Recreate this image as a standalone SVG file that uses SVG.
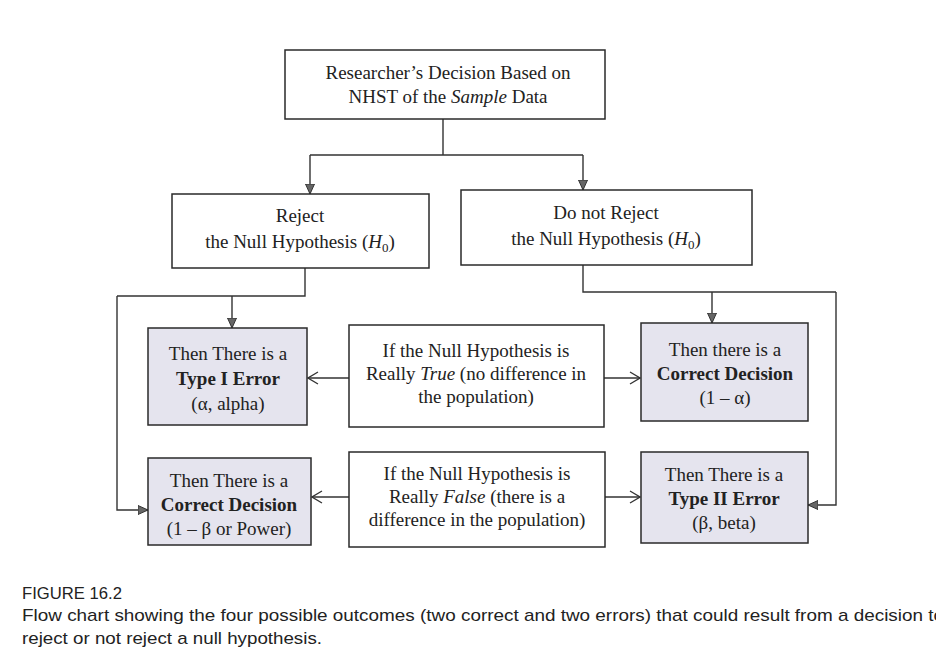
<svg xmlns="http://www.w3.org/2000/svg" width="936" height="665" viewBox="0 0 936 665">
<defs>
<marker id="tri" viewBox="0 0 10 10" refX="10" refY="5" markerWidth="10" markerHeight="10" markerUnits="userSpaceOnUse" orient="auto">
<path d="M0,0.5 L10,5 L0,9.5 Z" fill="#666" stroke="#333" stroke-width="1"/>
</marker>
<marker id="chev" viewBox="0 0 12 14" refX="11" refY="7" markerWidth="12" markerHeight="14" markerUnits="userSpaceOnUse" orient="auto">
<path d="M1,1 L11,7 L1,13" fill="none" stroke="#333" stroke-width="1.3"/>
</marker>
</defs>
<style>
.box{fill:#fff;stroke:#2a2a2a;stroke-width:1.5}
.gbox{fill:#e5e4ee;stroke:#2a2a2a;stroke-width:1.5}
.t{font-family:"Liberation Serif",serif;font-size:19px;fill:#222;text-anchor:middle}
.b{font-weight:bold}
.line{fill:none;stroke:#333;stroke-width:1.4}
.cap{font-family:"Liberation Sans",sans-serif;fill:#222}
</style>
<rect width="936" height="665" fill="#fff"/>
<g id="connectors">
<path class="line" d="M443,119 V155 M310,155 H583"/>
<path class="line" d="M310,155 V194" marker-end="url(#tri)"/>
<path class="line" d="M583,155 V190" marker-end="url(#tri)"/>
<path class="line" d="M305,268 V296 H117"/>
<path class="line" d="M232,296 V328" marker-end="url(#tri)"/>
<path class="line" d="M117,296 V510 H148" marker-end="url(#tri)"/>
<path class="line" d="M583,265 V292 H836"/>
<path class="line" d="M712,292 V323" marker-end="url(#tri)"/>
<path class="line" d="M836,292 V505 H808" marker-end="url(#tri)"/>
<path class="line" d="M349,378 H308" marker-end="url(#chev)"/>
<path class="line" d="M604,378 H640" marker-end="url(#chev)"/>
<path class="line" d="M349,497 H312" marker-end="url(#chev)"/>
<path class="line" d="M605,497 H640" marker-end="url(#chev)"/>
</g>
<g id="decision">
<rect class="box" x="285" y="50" width="320" height="69"/>
<text class="t" x="448" y="79" font-size="19.5">Researcher’s Decision Based on</text>
<text class="t" x="448" y="103" font-size="19.5">NHST of the <tspan font-style="italic">Sample</tspan> Data</text>
</g>
<g id="reject">
<rect class="box" x="172" y="194" width="257" height="74"/>
<text class="t" x="300" y="222">Reject</text>
<text class="t" x="300" y="248">the Null Hypothesis (<tspan font-style="italic">H</tspan><tspan font-size="13" dy="4">0</tspan><tspan dy="-4">)</tspan></text>
</g>
<g id="notreject">
<rect class="box" x="461" y="190" width="291" height="75"/>
<text class="t" x="606" y="219">Do not Reject</text>
<text class="t" x="606" y="245">the Null Hypothesis (<tspan font-style="italic">H</tspan><tspan font-size="13" dy="4">0</tspan><tspan dy="-4">)</tspan></text>
</g>
<g id="type1">
<rect class="gbox" x="148" y="328" width="159" height="97"/>
<text class="t" x="228" y="360">Then There is a</text>
<text class="t b" x="228" y="385">Type I Error</text>
<text class="t" x="228" y="410">(α, alpha)</text>
</g>
<g id="true">
<rect class="box" x="349" y="325" width="255" height="102"/>
<text class="t" x="476" y="357">If the Null Hypothesis is</text>
<text class="t" x="476" y="380">Really <tspan font-style="italic">True</tspan> (no difference in</text>
<text class="t" x="476" y="403">the population)</text>
</g>
<g id="correct1">
<rect class="gbox" x="641" y="323" width="167" height="98"/>
<text class="t" x="725" y="356">Then there is a</text>
<text class="t b" x="725" y="380">Correct Decision</text>
<text class="t" x="725" y="404">(1 – α)</text>
</g>
<g id="correct2">
<rect class="gbox" x="148" y="458" width="163" height="87"/>
<text class="t" x="229" y="487">Then There is a</text>
<text class="t b" x="229" y="511">Correct Decision</text>
<text class="t" x="229" y="535">(1 – β or Power)</text>
</g>
<g id="false">
<rect class="box" x="349" y="452" width="256" height="95"/>
<text class="t" x="477" y="480">If the Null Hypothesis is</text>
<text class="t" x="477" y="503">Really <tspan font-style="italic">False</tspan> (there is a</text>
<text class="t" x="477" y="526">difference in the population)</text>
</g>
<g id="type2">
<rect class="gbox" x="641" y="452" width="167" height="91"/>
<text class="t" x="724" y="481">Then There is a</text>
<text class="t b" x="724" y="505">Type II Error</text>
<text class="t" x="724" y="529">(β, beta)</text>
</g>
<g id="caption">
<text class="cap" x="22" y="599" font-size="17" textLength="100" lengthAdjust="spacingAndGlyphs">FIGURE 16.2</text>
<text class="cap" x="22" y="621" font-size="17" textLength="922" lengthAdjust="spacingAndGlyphs">Flow chart showing the four possible outcomes (two correct and two errors) that could result from a decision to</text>
<text class="cap" x="22" y="644" font-size="17" textLength="300" lengthAdjust="spacingAndGlyphs">reject or not reject a null hypothesis.</text>
</g>
</svg>
